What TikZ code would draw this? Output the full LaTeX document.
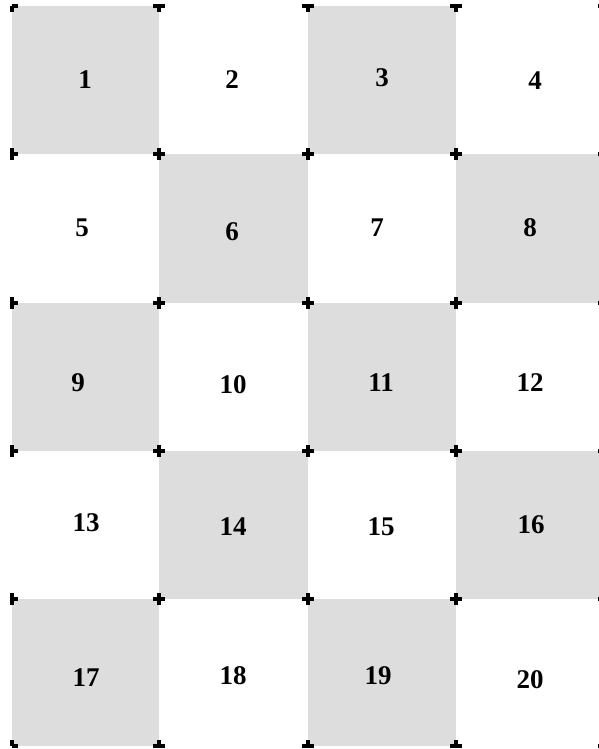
\documentclass[tikz,border=0pt]{standalone}
\usepackage{fontspec}
\setmainfont{Liberation Serif}
\definecolor{cellgray}{HTML}{DDDDDD}
\tikzset{
  shaded/.style={fill=cellgray, draw=none},
  numlabel/.style={font=\fontsize{27}{27}\selectfont\bfseries, inner sep=0pt, anchor=center},
  tick/.style={line width=4pt, line cap=square, draw=black}
}
\begin{document}
\begin{tikzpicture}[x=1pt,y=-1pt]
\useasboundingbox (0,0) rectangle (598,749);
\fill[white] (0,0) rectangle (598,749);
% grid line positions
\def\gx{{11.5,159.3,308,456,604}}
\def\gy{{6.5,154,302.5,450.5,598.5,745.5}}
% shaded cells (checkerboard)
\foreach \r in {0,...,4}{
  \foreach \c in {0,...,3}{
    \pgfmathparse{int(mod(\r+\c,2))}
    \ifnum\pgfmathresult=0
      \pgfmathsetmacro{\xa}{\gx[\c]}
      \pgfmathsetmacro{\xb}{\gx[\c+1]}
      \pgfmathsetmacro{\ya}{\gy[\r]}
      \pgfmathsetmacro{\yb}{\gy[\r+1]}
      \path[shaded] (\xa,\ya) rectangle (\xb,\yb);
    \fi
  }
}
% corner markers
\foreach \i in {0,...,4}{
  \foreach \j in {0,...,5}{
    \pgfmathsetmacro{\px}{\gx[\i]}
    \pgfmathsetmacro{\py}{\gy[\j]}
    \coordinate (g\i-\j) at (\px,\py);
    \ifnum\i>0 \draw[tick] (g\i-\j) -- ++(-6,0); \fi
    \ifnum\i<4 \draw[tick] (g\i-\j) -- ++(6,0); \fi
    \ifnum\j>0 \draw[tick] (g\i-\j) -- ++(0,-6); \fi
    \ifnum\j<5 \draw[tick] (g\i-\j) -- ++(0,6); \fi
  }
}
% labels
\node[numlabel] (n1) at (85,80) {1};
\node[numlabel] (n2) at (232,80) {2};
\node[numlabel] (n3) at (382,78) {3};
\node[numlabel] (n4) at (535,81) {4};
\node[numlabel] (n5) at (82,228) {5};
\node[numlabel] (n6) at (232,232) {6};
\node[numlabel] (n7) at (377,228) {7};
\node[numlabel] (n8) at (530,228) {8};
\node[numlabel] (n9) at (78,383) {9};
\node[numlabel] (n10) at (233,385) {10};
\node[numlabel] (n11) at (381,383) {11};
\node[numlabel] (n12) at (530,383) {12};
\node[numlabel] (n13) at (86,523) {13};
\node[numlabel] (n14) at (233,527) {14};
\node[numlabel] (n15) at (381,527) {15};
\node[numlabel] (n16) at (531,525) {16};
\node[numlabel] (n17) at (86,678) {17};
\node[numlabel] (n18) at (233,676) {18};
\node[numlabel] (n19) at (378,676) {19};
\node[numlabel] (n20) at (530,680) {20};
\end{tikzpicture}
\end{document}
